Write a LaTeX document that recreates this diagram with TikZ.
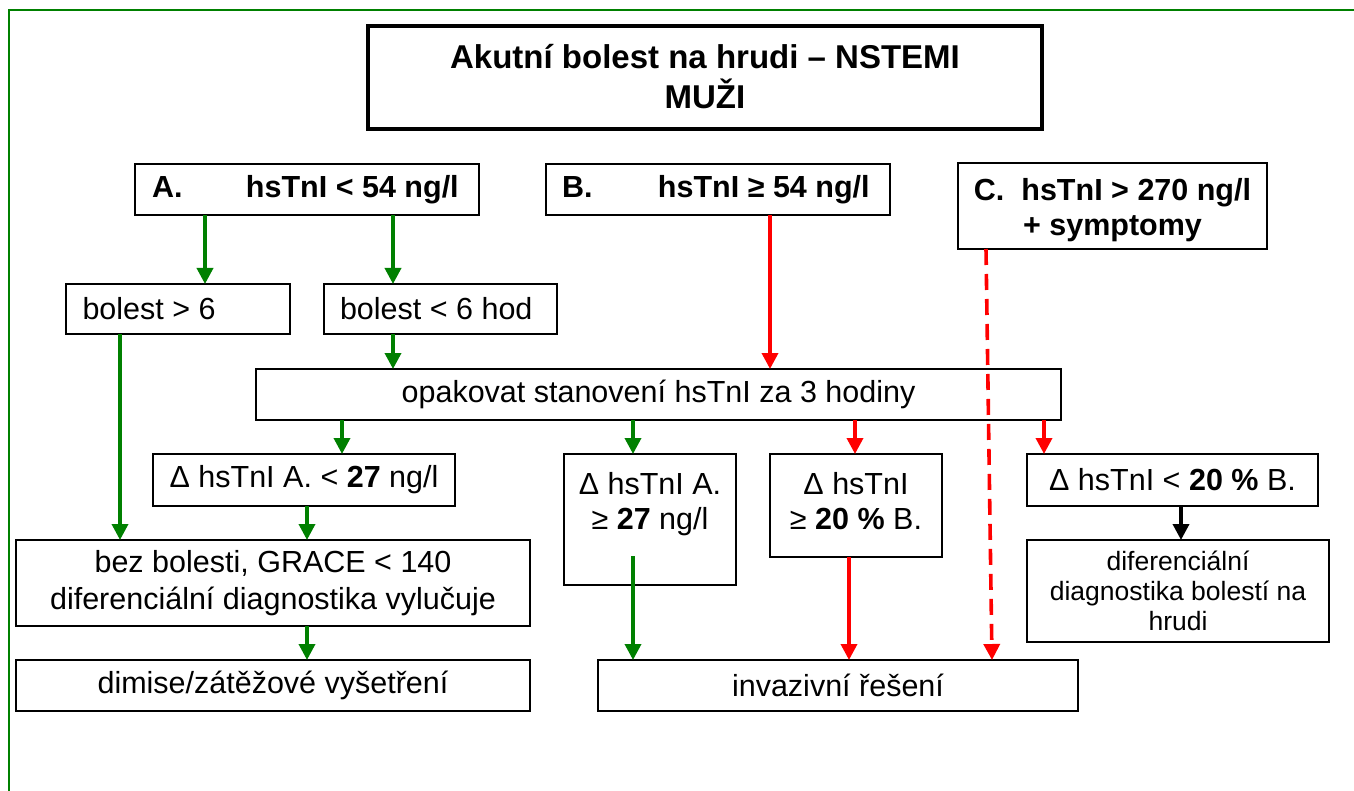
\documentclass[tikz,border=0pt]{standalone}
\usepackage{fontspec}
\setmainfont{Liberation Sans}
\usepackage{graphicx}
\usetikzlibrary{arrows.meta}
\definecolor{grn}{RGB}{0,128,0}
\definecolor{rd}{RGB}{255,0,0}
\tikzset{
 box/.style={draw=black, line width=1pt, fill=white, inner sep=0pt, outer sep=0pt, align=center, font=\fontsize{15.25}{18.15}\selectfont},
 tbox/.style={box, line width=2pt},
 hbox/.style={box, font=\fontsize{15.25}{17.5}\selectfont\bfseries},
 sbox/.style={box, font=\fontsize{13.25}{15}\selectfont},
 conn/.style={line width=1.8pt, -{Triangle[width=8pt,length=8pt]}},
 garr/.style={conn, color=grn},
 rarr/.style={conn, color=rd},
 karr/.style={conn, color=black},
 darr/.style={rarr, dash pattern=on 8pt off 4.5pt},
}
\newcommand\bx[7]{\node[#2, minimum width={(#5-#3)*0.5pt}, minimum height={(#6-#4)*0.5pt}] (#1) at ({(#3+#5)/2},{(#4+#6)/2}) {#7};}
\begin{document}
\begin{tikzpicture}[x=0.5pt,y=-0.5pt]
\clip (0,0) rectangle (1354,791);
\fill[white] (0,0) rectangle (1354,791);
\draw[grn, line width=1pt] (9,10) rectangle (1420,900);

\bx{title}{tbox, font=\fontsize{16.5}{20}\selectfont\bfseries}{368}{26}{1042}{129}{\parbox[c][50pt][t]{320pt}{\centering\rule{0pt}{20.35pt}Akutní bolest na hrudi – NSTEMI\\MUŽI}}

\bx{A}{hbox}{135}{164}{479}{215}{\parbox{155pt}{A.\hspace{31.75pt}hsTnI < 54 ng/l}}
\bx{B}{hbox}{546}{164}{890}{215}{\parbox{156pt}{B.\hspace{32.75pt}hsTnI ≥ 54 ng/l}}
\bx{C}{hbox}{958}{163}{1267}{249}{\parbox[c][42pt][t]{150pt}{\centering\rule{0pt}{18.5pt}C.\ \ hsTnI > 270 ng/l\\+ symptomy}}

\bx{b6}{box}{66}{284}{290}{334}{\parbox{95.5pt}{bolest > 6}}
\bx{b6h}{box}{324}{284}{557}{334}{\parbox{100.5pt}{bolest < 6 hod}}
\bx{opak}{box}{256}{369}{1061}{420}{opakovat stanovení hsTnI za 3 hodiny}

\bx{dA1}{box}{153}{454}{455}{506}{Δ hsTnI A. < \textbf{27} ng/l}
\bx{dA2}{box}{564}{454}{736}{585}{\parbox[c][64pt][t]{80pt}{\fontsize{15.25}{17.5}\selectfont\centering\rule{0pt}{19.6pt}Δ hsTnI A.\\≥ \textbf{27} ng/l}}
\bx{dB1}{box}{770}{454}{942}{557}{\parbox[c][50pt][t]{80pt}{\fontsize{15.25}{17.5}\selectfont\centering\rule{0pt}{19.6pt}Δ hsTnI\\≥ \textbf{20 \%} B.}}
\bx{dB2}{box}{1027}{454}{1318}{506}{Δ hsTnI < \textbf{20 \%} B.}
\bx{dif}{sbox}{1027}{540}{1329}{642}{diferenciální\\diagnostika bolestí na\\hrudi}

\bx{bez}{box}{16}{540}{530}{626}{bez bolesti, GRACE < 140\\diferenciální diagnostika vylučuje}
\bx{dim}{box}{16}{660}{530}{711}{\raisebox{-1.5pt}{dimise/zátěžové vyšetření}}
\bx{inv}{box}{598}{660}{1078}{711}{\raisebox{-1.5pt}{invazivní řešení}}

\coordinate (dA2s) at (633,556);

\draw[garr] (205,0 |- A.south) -- (205,0 |- b6.north);
\draw[garr] (393,0 |- A.south) -- (393,0 |- b6h.north);
\draw[garr] (393,0 |- b6h.south) -- (393,0 |- opak.north);
\draw[rarr] (770,0 |- B.south) -- (770,0 |- opak.north);
\draw[garr] (120,0 |- b6.south) -- (120,0 |- bez.north);
\draw[garr] (342,0 |- opak.south) -- (342,0 |- dA1.north);
\draw[garr] (633,0 |- opak.south) -- (633,0 |- dA2.north);
\draw[rarr] (855,0 |- opak.south) -- (855,0 |- dB1.north);
\draw[rarr] (1044,0 |- opak.south) -- (1044,0 |- dB2.north);
\draw[garr] (307,0 |- dA1.south) -- (307,0 |- bez.north);
\draw[garr] (307,0 |- bez.south) -- (307,0 |- dim.north);
\draw[garr] (dA2s) -- (633,0 |- inv.north);
\draw[rarr] (849,0 |- dB1.south) -- (849,0 |- inv.north);
\draw[darr] (986,0 |- C.south) -- (992,0 |- inv.north);
\draw[karr] (1181,0 |- dB2.south) -- (1181,0 |- dif.north);
\end{tikzpicture}
\end{document}
